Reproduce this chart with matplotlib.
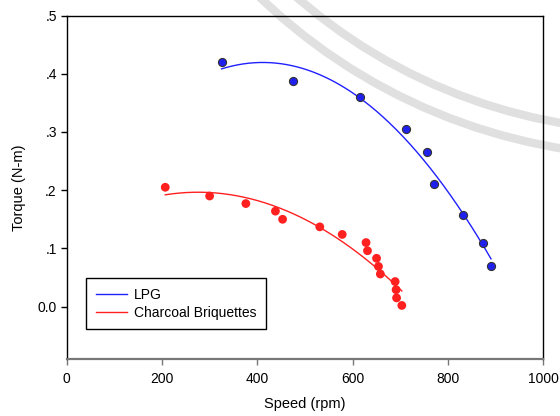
import matplotlib
matplotlib.use("Agg")
import matplotlib.pyplot as plt
import numpy as np
from matplotlib.patches import Circle

plt.rcParams["font.family"] = ["Liberation Sans", "DejaVu Sans"]

# LPG measurements
lpg_speed = [325, 475, 615, 712, 756, 771, 832, 874, 890]
lpg_torque = [0.420, 0.387, 0.360, 0.305, 0.265, 0.211, 0.157, 0.110, 0.070]

# charcoal briquette measurements
cb_speed = [207, 300, 376, 438, 453, 531, 578, 628, 631, 650, 654, 658,
            689, 691, 692, 703]
cb_torque = [0.205, 0.190, 0.177, 0.164, 0.150, 0.137, 0.124, 0.110, 0.096,
             0.083, 0.069, 0.056, 0.043, 0.029, 0.015, 0.002]

xticks = [0, 200, 400, 600, 800, 1000]
yticks = [0.0, 0.1, 0.2, 0.3, 0.4, 0.5]
ytick_labels = ["0.0", ".1", ".2", ".3", ".4", ".5"]


def quad_fit(x, y):
    c = np.polyfit(x, y, 2)
    xs = np.linspace(min(x), max(x), 200)
    return xs, np.polyval(c, xs)


fig = plt.figure(figsize=(5.6, 4.16), dpi=100)
ax = fig.add_axes([0.1188, 0.137, 0.8517, 0.8257])
ax.patch.set_alpha(0)

# faint seal watermark behind the plot
for r in (5.44, 5.69):
    fig.patches.append(Circle((6.54, 8.29), r, fill=False, lw=6.0,
                              ec="#e0e0e0", transform=fig.dpi_scale_trans,
                              zorder=-5))

xs, ys = quad_fit(lpg_speed, lpg_torque)
ax.plot(xs, ys, color="#2020ff", lw=1.0, label="LPG")
ax.scatter(lpg_speed, lpg_torque, s=34, color="#2020ee", edgecolors="#333333",
           linewidths=0.8, zorder=3)

xs, ys = quad_fit(cb_speed, cb_torque)
ax.plot(xs, ys, color="#ff2020", lw=1.0, label="Charcoal Briquettes")
ax.scatter(cb_speed, cb_torque, s=40, color="#ff2020", edgecolors="none",
           zorder=3)

ax.set_xlim(0, 1000)
ax.set_ylim(-0.09, 0.5)
ax.set_xticks(xticks)
ax.set_yticks(yticks)
ax.set_yticklabels(ytick_labels)
ax.tick_params(axis="x", direction="out", length=4, width=1, color="#777777",
               labelsize=10, pad=5)
ax.tick_params(axis="y", direction="out", length=4, width=1, color="black",
               labelsize=10, pad=3)
ax.spines["bottom"].set_color("#777777")
ax.spines["bottom"].set_linewidth(1.6)
for s in ("left", "top", "right"):
    ax.spines[s].set_linewidth(1.0)

ax.set_xlabel("Speed (rpm)", fontsize=10.5, labelpad=8)
ax.set_ylabel("Torque (N-m)", fontsize=10.5, labelpad=8)

leg = ax.legend(loc="lower left", bbox_to_anchor=(0.0415, 0.0865),
                borderaxespad=0, fancybox=False, fontsize=10,
                handlelength=2.2, handletextpad=0.5, borderpad=0.7,
                labelspacing=0.25, framealpha=1)
leg.get_frame().set_edgecolor("black")
leg.get_frame().set_linewidth(1.0)

fig.savefig("out.png", dpi=100)
